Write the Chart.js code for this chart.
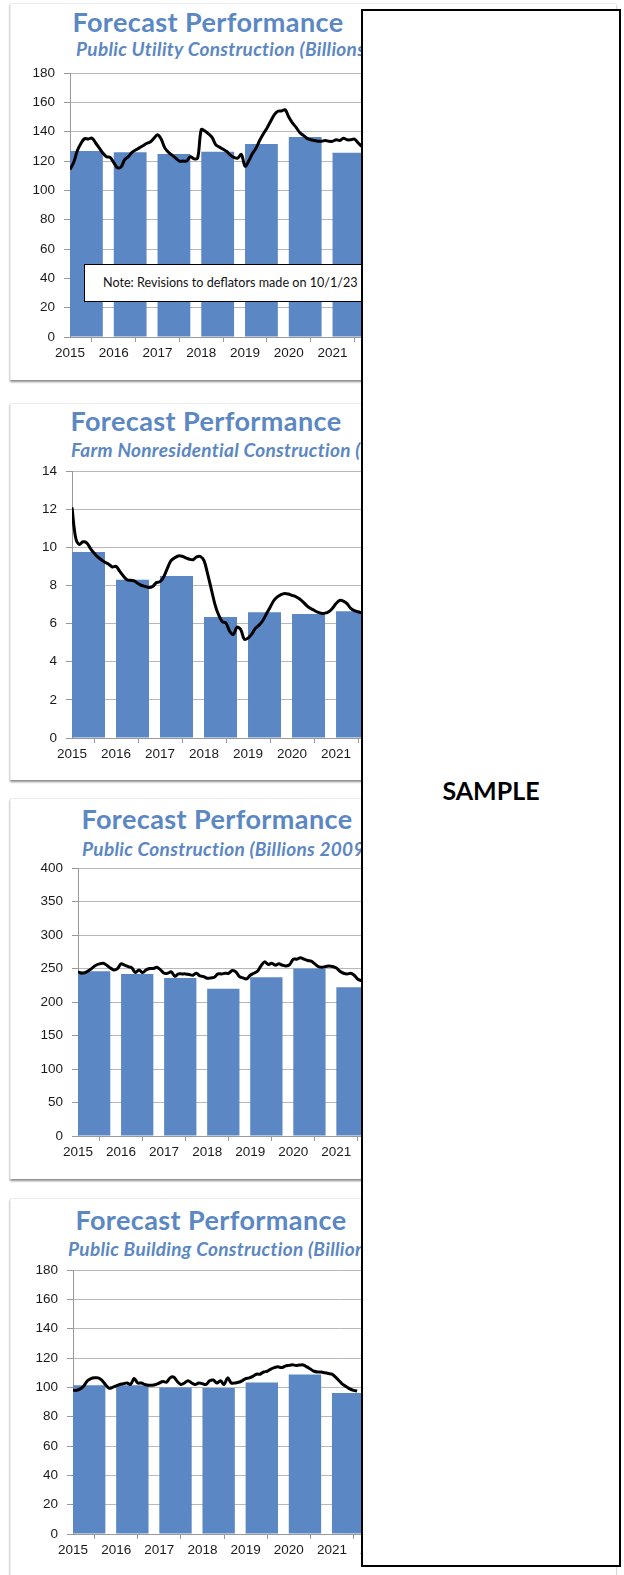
<!DOCTYPE html>
<html>
<head>
<meta charset="utf-8">
<title>Forecast Performance</title>
<script src="https://cdn.jsdelivr.net/npm/chart.js@4.4.1/dist/chart.umd.min.js"></script>
<style>
  html, body { margin: 0; padding: 0; background: #fff; }
  body { position: relative; width: 624px; height: 1575px; overflow: hidden; font-family: Lato, sans-serif; }
  .card { position: absolute; left: 10px; width: 605px; background: #fff;
          border-top: 1px solid #ececec; border-left: 1px solid #ececec;
          box-shadow: 0 2px 2px rgba(0,0,0,0.45); }
  .title { position: absolute; width: 400px; text-align: center; color: #5b87c3;
           font: 700 27px/1.2 Lato, sans-serif; letter-spacing: 0.4px; white-space: nowrap; }
  .sub { position: absolute; color: #5b87c3; font: italic 700 19px/1.2 Lato, sans-serif;
         letter-spacing: 0.3px; white-space: nowrap; }
  canvas { position: absolute; left: 10px; }
  .note { position: absolute; left: 84px; top: 264px; width: 320px; height: 36px; padding-left: 18px;
          border: 1px solid #000; background: #fff; color: #111; font: 12.6px/36px Lato, sans-serif; white-space: nowrap; }
  .sample { position: absolute; left: 361px; top: 9px; width: 260px; height: 1558px; box-sizing: border-box;
            border: 2px solid #000; background: #fff; }
  .sample span { position: absolute; left: 0; width: 100%; top: 764px; text-align: center;
                 font: 700 25px/1.2 Lato, sans-serif; color: #000; }
</style>
</head>
<body>
<div class="card" style="top:3px;height:376px"></div>
<div class="card" style="top:403px;height:376px"></div>
<div class="card" style="top:798px;height:380px"></div>
<div class="card" style="top:1198px;height:390px"></div>

<div class="title" style="left:8px;top:6px">Forecast Performance</div>
<div class="sub" style="left:76px;top:38px">Public Utility Construction (Billions 2009$)</div>
<div class="title" style="left:6px;top:405px">Forecast Performance</div>
<div class="sub" style="left:71px;top:439px">Farm Nonresidential Construction (Billions 2009$)</div>
<div class="title" style="left:17px;top:803px">Forecast Performance</div>
<div class="sub" style="left:82px;top:838px">Public Construction (Billions 2009$)</div>
<div class="title" style="left:11px;top:1204px">Forecast Performance</div>
<div class="sub" style="left:68px;top:1238px">Public Building Construction (Billions 2009$)</div>

<div id="charts"></div>
<div class="note">Note: Revisions to deflators made on 10/1/23</div>
<div class="sample"><span>SAMPLE</span></div>

<script>
const years = [2015, 2016, 2017, 2018, 2019, 2020, 2021];

// annual bars
const utilityBars = [126.9, 126, 124.9, 126.4, 131.7, 136.4, 125.7];
const farmBars = [9.75, 8.3, 8.5, 6.35, 6.6, 6.5, 6.65];
const publicBars = [246, 242, 236, 220, 237, 250, 222];
const buildingBars = [101.5, 101.5, 100, 99.6, 103.3, 108.8, 96.2];

// monthly forecast line, Jan 2015 onward
const utilityLine = [
  114.3, 119, 127, 132, 135.3, 135, 135.7, 132.5, 129, 125.5, 123, 122.5,
  119, 115.5, 116, 121, 123, 126, 127.5, 129, 130.5, 132, 133, 135.5,
  138, 135, 129, 126, 124, 122, 120, 120, 120, 123, 121.5, 122,
  141.5, 140.5, 138.5, 136, 131, 129.5, 128, 126.5, 124, 122.5, 122, 124.5,
  116.5, 120, 125, 128.7, 134, 138.5, 142.4, 147, 151.5, 154, 154.2, 155,
  150, 146, 143, 139.5, 137.5, 135.5, 134.5, 134, 133.5, 133.5, 134, 133.5,
  133.5, 134.5, 134, 135.5, 134.5, 134.5, 135, 132.5, 130
];
const farmLine = [
  12.1, 10.5, 10.15, 10.29, 10.24, 9.95, 9.7, 9.5, 9.35, 9.22, 9.12, 8.97,
  9.0, 8.75, 8.5, 8.3, 8.27, 8.24, 8.1, 8.0, 7.95, 7.9, 7.95, 8.15,
  8.2, 8.45, 8.9, 9.3, 9.45, 9.55, 9.53, 9.45, 9.38, 9.35, 9.5, 9.52,
  9.3, 8.6, 7.8, 7.0, 6.45, 6.1, 6.03, 5.6, 5.43, 5.81, 5.69, 5.18,
  5.24, 5.45, 5.75, 5.92, 6.15, 6.5, 6.85, 7.2, 7.4, 7.52, 7.58, 7.55,
  7.48, 7.42, 7.3, 7.14, 6.95, 6.8, 6.7, 6.6, 6.54, 6.55, 6.62, 6.8,
  7.05, 7.22, 7.18, 7.05, 6.8, 6.68, 6.62, 6.55
];
const publicLine = [
  245, 243, 244, 247, 251, 255, 257, 258, 255, 251, 248, 250,
  257, 255, 253, 251, 244, 248, 244, 248, 250, 250, 252, 248,
  243, 243, 245, 238.5, 242, 242, 242, 241, 240, 243, 239, 238,
  235.5, 236, 237, 242, 242, 243, 243, 247, 245, 238, 236, 234.5,
  240, 243, 246, 254, 260, 256, 258, 255, 257, 255, 254, 256,
  264, 264, 266, 264, 262, 261, 257, 253, 252, 253, 254, 253,
  251, 246, 243, 242, 243, 240, 234, 232
];
const buildingLine = [
  98, 98, 99, 101, 104.5, 106, 106.5, 106.5, 105, 102, 99.5, 100,
  101, 102, 102.5, 103, 102, 106, 103, 103, 102, 101.5, 101.5, 102,
  103, 104, 103.5, 106.5, 107, 104, 102, 103, 104.5, 103, 102, 103,
  102.5, 102, 104.5, 105, 103, 104.5, 102, 106.5, 103, 103, 103.5, 104.5,
  106, 106.5, 107.5, 109, 109, 110.5, 111, 112.5, 113.5, 114, 113.5, 114.5,
  115, 115.4, 115, 115.2, 115.3, 114, 112.5, 111, 110.5, 110.5, 110, 109.5,
  109, 107, 104.5, 102, 100.5, 99, 98, 97.5
];

const panels = [
  { bars: utilityBars, line: utilityLine, max: 180, step: 20, left: 70, top: 66, bottom: 337, perYear: 44 },
  { bars: farmBars, line: farmLine, max: 14, step: 2, left: 72, top: 464, bottom: 738, perYear: 44.25 },
  { bars: publicBars, line: publicLine, max: 400, step: 50, left: 78, top: 861, bottom: 1136, perYear: 43.3 },
  { bars: buildingBars, line: buildingLine, max: 180, step: 20, left: 73, top: 1263, bottom: 1534, perYear: 43.4 }
];

const tickFont = { family: '"Liberation Sans", Arial, sans-serif', size: 13.5 };
const holder = document.getElementById('charts');

panels.forEach(p => {
  const canvas = document.createElement('canvas');
  canvas.width = 600;
  canvas.height = p.bottom - p.top + 40;
  canvas.style.top = (p.top - 10) + 'px';
  holder.appendChild(canvas);
  const plotW = 610 - p.left;

  new Chart(canvas, {
    type: 'bar',
    data: {
      datasets: [
        {
          type: 'line',
          data: p.line.map((v, i) => ({ x: 2015 + i / 12, y: v })),
          borderColor: '#000',
          borderWidth: 3,
          pointRadius: 0,
          tension: 0.35,
          order: 0
        },
        {
          type: 'bar',
          data: years.map((yr, i) => ({ x: yr + 0.375, y: p.bars[i] })),
          backgroundColor: '#5b88c4',
          barPercentage: 0.75,
          categoryPercentage: 1,
          order: 1
        }
      ]
    },
    options: {
      responsive: false,
      animation: false,
      devicePixelRatio: 1,
      layout: { padding: { top: 10, right: 0, bottom: 0, left: 0 } },
      plugins: { legend: { display: false }, tooltip: { enabled: false } },
      scales: {
        x: {
          type: 'linear',
          min: 2015,
          max: 2015 + plotW / p.perYear,
          offset: false,
          afterFit: s => { s.height = 30; },
          grid: { drawOnChartArea: false, tickLength: 5, color: '#999' },
          border: { color: '#999' },
          ticks: {
            stepSize: 1, autoSkip: false, maxRotation: 0, padding: 3,
            color: '#1a1a1a', font: tickFont,
            callback: function (v) { return Number.isInteger(v) && v <= this.max - 0.5 ? String(v) : ''; }
          }
        },
        y: {
          min: 0,
          max: p.max,
          afterFit: s => { s.width = p.left - 10; },
          grid: { color: '#b8b8b8', tickLength: 6, tickColor: '#999' },
          border: { color: '#999' },
          ticks: { stepSize: p.step, padding: 9, color: '#1a1a1a', font: tickFont }
        }
      }
    }
  });
});
</script>
</body>
</html>
